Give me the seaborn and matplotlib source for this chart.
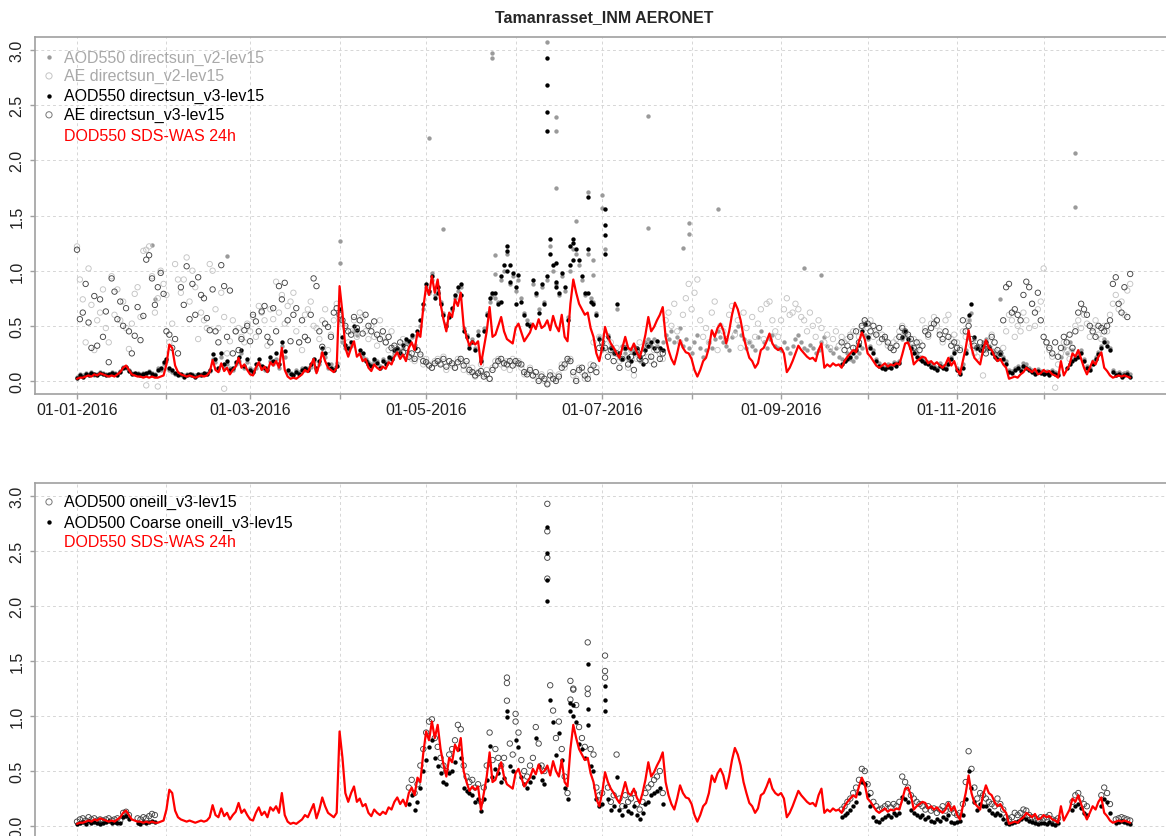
import numpy as np
import pandas as pd
import matplotlib
matplotlib.use('Agg')
import matplotlib.pyplot as plt
import seaborn as sns

nan = np.nan
#
# Daily values, one row per month (Jan .. Dec 2016)
dod550 = [
    0.02,0.03,0.03,0.04,0.05,0.04,0.06,0.05,0.07,0.06,0.05,0.04,0.05,0.04,0.06,0.08,0.12,0.14,0.10,0.06,0.05,0.04,0.04,0.03,0.04,0.03,0.04,0.03,0.03,0.04,0.05,
    0.15,0.33,0.30,0.14,0.08,0.06,0.05,0.04,0.05,0.04,0.03,0.04,0.05,0.04,0.05,0.08,0.19,0.10,0.08,0.16,0.09,0.12,0.06,0.10,0.13,0.21,0.12,0.15,0.10,
    0.06,0.05,0.12,0.17,0.10,0.13,0.08,0.17,0.14,0.18,0.12,0.30,0.10,0.04,0.02,0.03,0.02,0.04,0.06,0.10,0.08,0.14,0.20,0.07,0.15,0.26,0.18,0.12,0.10,0.08,0.12,
    0.86,0.62,0.30,0.22,0.30,0.36,0.22,0.25,0.18,0.20,0.12,0.09,0.15,0.12,0.10,0.13,0.11,0.17,0.15,0.22,0.26,0.20,0.24,0.18,0.30,0.35,0.28,0.44,0.40,0.66,
    0.86,0.78,0.95,0.80,0.92,0.70,0.56,0.45,0.62,0.58,0.74,0.68,0.80,0.50,0.40,0.32,0.36,0.33,0.36,0.15,0.30,0.45,0.67,0.40,0.42,0.50,0.58,0.45,0.38,0.36,0.34,
    0.48,0.52,0.44,0.36,0.40,0.44,0.52,0.47,0.56,0.48,0.50,0.55,0.46,0.59,0.50,0.45,0.60,0.40,0.36,0.70,0.92,0.80,0.70,0.65,0.60,0.62,0.48,0.40,0.25,0.18,
    0.30,0.49,0.40,0.34,0.30,0.25,0.21,0.30,0.40,0.30,0.28,0.34,0.26,0.21,0.30,0.42,0.58,0.45,0.49,0.55,0.60,0.67,0.40,0.28,0.20,0.15,0.25,0.37,0.30,0.26,0.25,
    0.20,0.10,0.04,0.10,0.18,0.21,0.30,0.46,0.40,0.48,0.52,0.46,0.34,0.45,0.60,0.71,0.65,0.55,0.40,0.30,0.21,0.18,0.12,0.16,0.28,0.30,0.36,0.43,0.34,0.30,0.28,
    0.30,0.25,0.08,0.12,0.18,0.25,0.32,0.28,0.25,0.22,0.20,0.21,0.18,0.28,0.34,0.12,0.15,0.13,0.16,0.14,0.15,0.12,0.18,0.22,0.25,0.28,0.26,0.36,0.44,0.38,
    0.25,0.22,0.18,0.14,0.12,0.14,0.16,0.13,0.15,0.14,0.16,0.15,0.24,0.34,0.35,0.28,0.15,0.18,0.20,0.22,0.21,0.16,0.18,0.15,0.17,0.14,0.12,0.15,0.21,0.14,0.18,
    0.10,0.06,0.18,0.30,0.46,0.30,0.21,0.18,0.15,0.28,0.37,0.30,0.28,0.22,0.18,0.20,0.15,0.12,0.02,0.03,0.04,0.03,0.06,0.08,0.12,0.10,0.08,0.11,0.06,0.07,
    0.10,0.08,0.09,0.06,0.05,0.03,0.18,0.05,0.10,0.15,0.25,0.22,0.28,0.20,0.12,0.06,0.12,0.18,0.15,0.22,0.26,0.12,0.09,0.05,0.03,0.04,0.05,0.04,0.05,0.04,0.03,
]

aod550_v3 = [
    0.03,0.05,0.04,0.06,0.05,0.07,0.06,0.05,0.07,0.06,0.05,0.06,0.07,0.06,0.05,0.08,0.12,0.13,0.09,0.06,0.07,0.06,0.05,0.06,0.07,0.08,0.06,0.05,0.10,0.12,0.17,
    0.20,0.12,0.10,0.07,0.05,0.06,0.04,0.05,0.06,0.05,0.04,0.06,0.05,0.07,0.06,0.10,0.24,0.20,0.12,0.25,0.15,0.18,0.10,0.12,0.17,0.22,0.28,0.14,0.20,
    0.10,0.08,0.15,0.20,0.14,0.12,0.10,0.22,0.18,0.25,0.15,0.35,0.27,0.10,0.06,0.05,0.08,0.06,0.10,0.12,0.10,0.15,0.20,0.12,0.18,0.30,0.25,0.15,0.12,0.10,0.14,
    0.65,0.40,0.33,0.30,0.35,0.50,0.46,0.28,0.25,0.18,0.15,0.14,0.20,0.16,0.12,0.18,0.15,0.22,0.20,0.28,0.30,0.25,0.33,0.38,0.36,0.42,0.30,0.45,0.55,0.70,
    0.88,0.82,0.95,0.75,0.85,0.70,0.60,0.50,0.58,0.66,0.78,0.85,0.88,0.45,0.40,0.30,0.35,0.28,0.42,0.18,0.45,0.60,0.75,0.80,0.80,0.70,0.95,1.05,1.22,0.90,0.98,
    0.85,0.96,0.72,0.60,0.52,0.50,0.92,0.80,0.62,0.88,0.70,0.95,1.29,1.05,0.90,0.80,0.98,0.85,0.55,1.05,1.25,1.20,1.10,0.95,0.80,1.20,0.72,0.70,0.60,0.38,
    0.30,1.32,0.40,0.30,0.25,0.70,0.25,0.20,0.30,0.22,0.18,0.25,0.30,0.22,0.15,0.28,0.32,0.35,0.30,0.36,0.30,0.28,nan,nan,nan,nan,nan,nan,nan,nan,nan,
    nan,nan,nan,nan,nan,nan,nan,nan,nan,nan,nan,nan,nan,nan,nan,nan,nan,nan,nan,nan,nan,nan,nan,nan,nan,nan,nan,nan,nan,nan,nan,
    nan,nan,nan,nan,nan,nan,nan,nan,nan,nan,nan,nan,nan,nan,nan,nan,nan,nan,nan,nan,nan,0.15,0.18,0.20,0.22,0.25,0.28,0.33,0.45,0.52,
    0.40,0.30,0.25,0.18,0.14,0.12,0.11,0.13,0.12,0.15,0.14,0.16,0.40,0.45,0.38,0.30,0.25,0.22,0.20,0.18,0.16,0.15,0.13,0.12,0.10,0.14,0.12,0.11,0.15,0.20,0.25,
    0.10,0.06,0.12,0.25,0.60,0.70,0.40,0.30,0.28,0.32,0.35,0.30,0.25,0.22,0.20,0.24,0.20,0.15,0.08,0.07,0.10,0.12,0.09,0.14,0.12,0.10,0.08,0.06,0.09,0.07,
    0.06,0.07,0.05,0.08,0.06,0.05,nan,nan,0.12,0.15,0.18,0.20,0.22,0.25,0.18,0.12,0.10,0.15,0.20,0.24,0.30,0.35,0.32,0.28,0.08,0.05,0.06,0.04,0.05,0.06,0.04,
]

aod550_v2 = [
    0.04,0.06,0.05,0.07,0.06,0.08,0.05,0.06,0.08,0.07,0.06,0.05,0.08,0.07,0.06,0.09,0.13,0.12,0.10,0.07,0.06,0.07,0.06,0.07,0.06,0.09,0.07,0.06,0.12,0.10,0.15,
    0.18,0.10,0.08,0.06,0.07,0.05,0.05,0.06,0.05,0.06,0.05,0.05,0.06,0.06,0.07,0.09,0.20,0.17,0.10,0.22,0.12,0.15,0.12,0.10,0.15,0.18,0.25,0.12,0.17,
    0.12,0.10,0.12,0.15,0.12,0.10,0.12,0.18,0.15,0.20,0.12,0.32,0.22,0.08,0.07,0.06,0.10,0.08,0.12,0.10,0.12,0.13,0.18,0.10,0.15,0.25,0.22,0.12,0.15,0.12,0.16,
    0.55,0.35,0.30,0.28,0.32,0.45,0.42,0.25,0.22,0.20,0.17,0.15,0.18,0.18,0.14,0.20,0.17,0.20,0.22,0.25,0.28,0.27,0.30,0.35,0.34,0.40,0.33,0.42,0.50,0.65,
    0.85,0.80,0.92,0.78,0.82,0.72,0.62,0.52,0.60,0.64,0.75,0.82,0.85,0.48,0.42,0.33,0.38,0.30,0.45,0.20,0.48,0.62,0.72,0.78,0.75,0.72,0.92,1.00,1.15,0.88,0.95,
    0.82,0.92,0.75,0.62,0.55,0.52,0.88,0.78,0.65,0.85,0.72,0.92,1.22,1.00,0.88,0.78,0.95,0.82,0.58,1.00,1.20,1.15,1.05,0.92,0.78,1.15,0.75,0.72,0.62,0.40,
    0.28,1.20,0.42,0.32,0.28,0.65,0.22,0.32,0.25,0.20,0.28,0.32,0.25,0.18,0.30,0.35,0.38,0.32,0.38,0.32,0.30,0.35,0.42,0.38,0.45,0.35,0.40,0.48,0.32,0.38,0.30,
    0.25,0.35,0.42,0.30,0.22,0.28,0.35,0.30,0.38,0.45,0.40,0.35,0.32,0.28,0.40,0.45,0.50,0.42,0.38,0.30,0.35,0.32,0.28,0.40,0.45,0.35,0.30,0.38,0.42,0.32,0.30,
    0.28,0.35,0.30,0.25,0.32,0.38,0.42,0.35,0.30,0.28,0.33,0.30,0.25,0.28,0.35,0.40,0.32,0.28,0.25,0.30,0.22,0.20,0.18,0.25,0.20,0.18,0.22,0.25,0.30,0.42,
    0.38,0.32,0.28,0.20,0.16,0.14,0.13,0.15,0.14,0.17,0.16,0.18,0.38,0.42,0.35,0.32,0.28,0.25,0.22,0.20,0.18,0.17,0.15,0.14,0.12,0.16,0.14,0.13,0.17,0.22,0.27,
    0.12,0.08,0.15,0.28,0.55,0.62,0.38,0.32,0.30,0.35,0.38,0.32,0.28,0.25,0.22,0.26,0.22,0.18,0.10,0.09,0.12,0.14,0.11,0.16,0.15,0.12,0.10,0.08,0.11,0.09,
    0.08,0.09,0.07,0.10,0.08,0.07,0.22,0.30,0.25,0.35,0.28,0.22,0.25,0.28,0.20,0.14,0.12,0.18,0.22,0.26,0.32,0.38,0.35,0.30,0.10,0.07,0.08,0.06,0.07,0.08,0.06,
]

ae_v3 = [
    1.19,0.56,0.62,0.88,0.53,0.30,0.77,0.32,0.74,0.40,0.63,0.17,0.93,0.81,0.56,0.72,0.50,0.66,0.45,0.25,0.41,0.67,0.37,0.59,1.10,1.14,0.93,0.69,0.85,0.98,0.79,
    0.45,0.42,0.30,0.38,0.25,0.85,0.69,1.04,0.56,0.88,0.60,0.94,0.78,0.75,0.57,0.46,0.83,0.45,0.35,1.05,0.86,0.40,0.82,0.25,0.45,0.28,0.38,0.46,0.50,
    0.36,0.60,0.54,0.45,0.63,0.68,0.40,0.35,0.66,0.45,0.86,0.74,0.89,0.55,0.36,0.60,0.66,0.35,0.55,0.40,0.37,0.60,0.93,0.86,0.45,0.31,0.52,0.49,0.40,0.62,0.66,
    0.60,0.55,0.50,0.45,0.42,0.58,0.48,0.55,0.43,0.60,0.50,0.45,0.54,0.42,0.38,0.45,0.35,0.40,0.30,0.32,0.28,0.35,0.26,0.30,0.22,0.25,0.20,0.28,0.24,0.18,
    0.17,0.14,0.12,0.16,0.18,0.15,0.20,0.13,0.18,0.16,0.12,0.17,0.20,0.14,0.18,0.10,0.08,0.05,0.07,0.09,0.04,0.06,0.02,0.10,0.14,0.18,0.20,0.16,0.15,0.18,0.14,
    0.18,0.16,0.15,0.08,0.06,0.10,0.05,0.08,0.00,0.04,0.02,-0.03,0.05,0.02,0.00,0.04,0.12,0.15,0.20,0.18,0.08,0.00,0.10,0.12,0.05,0.02,0.10,0.14,0.08,0.30,
    0.35,0.30,0.22,0.28,0.18,0.25,0.12,0.20,0.30,0.15,0.22,0.10,0.28,0.20,0.25,0.18,0.32,0.22,0.15,0.28,0.20,0.25,nan,nan,nan,nan,nan,nan,nan,nan,nan,
    nan,nan,nan,nan,nan,nan,nan,nan,nan,nan,nan,nan,nan,nan,nan,nan,nan,nan,nan,nan,nan,nan,nan,nan,nan,nan,nan,nan,nan,nan,nan,
    nan,nan,nan,nan,nan,nan,nan,nan,nan,nan,nan,nan,nan,nan,nan,nan,nan,nan,nan,nan,nan,0.35,0.28,0.32,0.40,0.30,0.45,0.35,0.50,0.55,
    0.52,0.45,0.50,0.42,0.48,0.38,0.40,0.35,0.30,0.28,0.32,0.40,0.48,0.45,0.42,0.38,0.30,0.35,0.28,0.32,0.45,0.42,0.48,0.52,0.55,0.42,0.38,0.45,0.40,0.32,0.35,
    0.30,0.28,0.55,0.45,0.50,0.38,0.32,0.30,0.35,0.28,0.25,0.30,0.40,0.35,0.28,0.25,0.55,0.85,0.88,0.62,0.65,0.60,0.55,0.78,0.90,0.85,0.70,0.62,0.80,0.55,
    0.40,0.35,0.30,0.25,0.35,0.22,0.30,0.40,0.35,0.42,0.30,0.45,0.62,0.70,0.65,0.60,0.50,0.45,0.40,0.50,0.48,0.45,0.50,0.55,0.88,0.94,0.70,0.62,0.85,0.58,0.97,
]

ae_v2 = [
    1.22,0.92,0.74,0.35,1.02,0.69,0.28,0.55,0.62,0.83,0.48,0.35,0.95,0.60,0.83,0.55,0.72,0.48,0.29,0.52,0.79,0.85,0.58,1.18,1.19,1.22,0.95,0.62,0.75,1.00,0.88,
    0.78,0.35,0.52,1.06,0.92,0.80,0.92,1.12,0.72,1.00,0.85,0.38,0.62,0.55,0.48,1.06,1.00,0.65,0.48,0.80,0.58,0.25,0.36,0.55,0.45,0.48,0.40,0.35,0.52,
    0.45,0.58,0.40,0.68,0.62,0.55,0.32,0.65,0.56,0.90,0.62,0.78,0.52,0.68,0.72,0.80,0.45,0.35,0.28,0.60,0.65,0.72,0.50,0.48,0.38,0.55,0.65,0.28,0.42,0.55,0.70,
    0.58,0.52,0.48,0.35,0.45,0.55,0.40,0.62,0.58,0.45,0.38,0.50,0.40,0.32,0.55,0.40,0.35,0.28,0.45,0.30,0.25,0.32,0.38,0.22,0.25,0.20,0.18,0.28,0.22,0.15,
    0.20,0.15,0.12,0.18,0.20,0.16,0.22,0.10,0.18,0.14,0.12,0.20,0.18,0.10,0.15,0.08,0.12,0.04,0.08,0.15,0.06,0.10,0.02,0.12,0.18,0.20,0.15,0.12,0.18,0.10,0.20,
    0.15,0.18,0.12,0.06,0.08,0.12,0.05,0.04,0.02,0.06,0.00,-0.02,0.08,0.05,0.02,0.06,0.15,0.12,0.18,0.20,0.05,0.02,0.12,0.08,0.02,0.05,0.15,0.35,0.12,0.40,
    0.32,0.38,0.28,0.35,0.25,0.30,0.18,0.22,0.32,0.12,0.28,0.05,0.20,0.35,0.25,0.30,0.22,0.18,0.28,0.35,0.25,0.20,0.55,0.62,0.50,0.70,0.45,0.35,0.60,0.75,0.88,
    0.65,0.80,0.92,0.55,0.40,0.48,0.35,0.62,0.72,0.28,0.50,0.45,0.38,0.60,0.68,0.42,0.55,0.30,0.62,0.48,0.35,0.58,0.40,0.52,0.65,0.38,0.70,0.72,0.55,0.45,0.40,
    0.55,0.65,0.75,0.60,0.62,0.70,0.65,0.58,0.55,0.45,0.62,0.50,0.40,0.55,0.48,0.35,0.42,0.30,0.38,0.45,0.32,0.40,0.35,0.38,0.42,0.45,0.30,0.40,0.48,0.52,
    0.48,0.55,0.40,0.45,0.35,0.42,0.38,0.32,0.30,0.35,0.38,0.45,0.50,0.42,0.40,0.35,0.38,0.30,0.35,0.55,0.48,0.40,0.52,0.58,0.50,0.45,0.35,0.55,0.60,0.38,0.42,
    0.35,0.30,0.45,0.40,0.55,0.32,0.25,0.22,0.30,0.05,0.28,0.35,0.42,0.30,0.25,0.20,0.30,0.45,0.60,0.55,0.40,0.50,0.45,0.62,0.55,0.48,0.70,0.50,0.65,0.72,
    1.02,0.35,0.28,0.22,-0.06,0.15,0.25,0.35,0.28,0.20,0.30,0.50,0.55,0.48,0.60,0.52,0.40,0.48,0.55,0.42,0.38,0.50,0.45,0.60,0.70,0.78,0.65,0.72,0.60,0.82,0.88,
]

aod500_oneill = [
    0.04,0.06,0.07,0.05,0.08,0.06,0.07,0.05,0.06,0.05,0.06,0.07,0.05,0.06,0.07,0.05,0.12,0.13,0.10,nan,nan,0.07,0.06,0.08,0.07,0.09,0.11,0.10,nan,nan,nan,
    nan,nan,nan,nan,nan,nan,nan,nan,nan,nan,nan,nan,nan,nan,nan,nan,nan,nan,nan,nan,nan,nan,nan,nan,nan,nan,nan,nan,nan,
    nan,nan,nan,nan,nan,nan,nan,nan,nan,nan,nan,nan,nan,nan,nan,nan,nan,nan,nan,nan,nan,nan,nan,nan,nan,nan,nan,nan,nan,nan,nan,
    nan,nan,nan,nan,nan,nan,nan,nan,nan,nan,nan,nan,nan,nan,nan,nan,nan,nan,nan,nan,nan,nan,nan,nan,0.35,0.42,0.30,0.38,0.55,0.70,
    0.85,0.95,0.97,0.80,0.72,0.62,0.55,0.50,0.65,0.70,0.78,0.92,0.88,0.55,0.45,0.40,0.42,0.35,0.38,0.22,0.35,0.55,0.85,0.60,0.70,0.62,0.55,0.62,1.30,0.75,0.65,
    0.95,0.85,0.60,0.50,0.45,0.55,0.62,0.90,0.75,0.55,0.50,2.25,1.28,1.05,0.80,0.95,0.70,0.45,0.30,1.15,1.25,1.10,0.90,0.80,0.72,1.25,0.70,0.65,0.35,0.28,
    0.30,1.35,0.35,0.22,0.28,0.65,0.25,0.18,0.28,0.22,0.25,0.30,0.20,0.15,0.22,0.30,0.35,0.38,0.42,0.45,0.50,0.30,nan,nan,nan,nan,nan,nan,nan,nan,nan,
    nan,nan,nan,nan,nan,nan,nan,nan,nan,nan,nan,nan,nan,nan,nan,nan,nan,nan,nan,nan,nan,nan,nan,nan,nan,nan,nan,nan,nan,nan,nan,
    nan,nan,nan,nan,nan,nan,nan,nan,nan,nan,nan,nan,nan,nan,nan,nan,nan,nan,nan,nan,nan,0.15,0.18,0.22,0.25,0.30,0.35,0.42,0.52,0.50,
    0.38,0.30,0.22,0.18,0.15,0.16,0.18,0.20,0.17,0.20,0.18,0.22,0.45,0.40,0.35,0.28,0.25,0.22,0.20,0.18,0.15,0.18,0.14,0.16,0.12,0.15,0.18,0.14,0.20,0.15,0.12,
    0.10,0.12,0.20,0.40,0.68,0.52,0.35,0.25,0.30,0.28,0.25,0.22,0.20,0.18,0.25,0.20,0.15,0.08,0.06,0.08,0.12,0.10,0.12,0.15,0.14,0.10,0.08,0.07,0.06,0.08,
    0.07,0.08,0.10,0.06,0.05,0.07,nan,nan,nan,nan,0.22,0.28,0.30,0.25,0.20,0.18,nan,nan,nan,nan,0.28,0.35,0.30,0.20,nan,0.06,0.07,0.08,0.07,0.06,0.05,
]

aod500_coarse = [
    0.02,0.03,0.04,0.02,0.05,0.03,0.04,0.03,0.02,0.03,0.04,0.05,0.03,0.04,0.03,0.03,0.08,0.09,0.06,nan,nan,0.03,0.02,0.04,0.03,0.04,0.05,0.04,nan,nan,nan,
    nan,nan,nan,nan,nan,nan,nan,nan,nan,nan,nan,nan,nan,nan,nan,nan,nan,nan,nan,nan,nan,nan,nan,nan,nan,nan,nan,nan,nan,
    nan,nan,nan,nan,nan,nan,nan,nan,nan,nan,nan,nan,nan,nan,nan,nan,nan,nan,nan,nan,nan,nan,nan,nan,nan,nan,nan,nan,nan,nan,nan,
    nan,nan,nan,nan,nan,nan,nan,nan,nan,nan,nan,nan,nan,nan,nan,nan,nan,nan,nan,nan,nan,nan,nan,nan,0.20,0.28,0.15,0.22,0.35,0.50,
    0.60,0.72,0.78,0.62,0.55,0.48,0.40,0.38,0.48,0.50,0.58,0.70,0.62,0.35,0.32,0.30,0.28,0.22,0.25,0.14,0.25,0.42,0.73,0.45,0.52,0.48,0.40,0.44,1.05,0.55,0.50,
    0.78,0.72,0.45,0.38,0.35,0.40,0.45,0.80,0.55,0.42,0.38,2.05,1.15,0.95,0.65,0.85,0.60,0.35,0.25,1.05,1.10,0.95,0.75,0.70,0.62,0.92,0.55,0.50,0.25,0.18,
    0.20,1.15,0.25,0.15,0.18,0.45,0.15,0.10,0.18,0.14,0.12,0.18,0.10,0.06,0.12,0.20,0.22,0.28,0.30,0.32,0.35,0.20,nan,nan,nan,nan,nan,nan,nan,nan,nan,
    nan,nan,nan,nan,nan,nan,nan,nan,nan,nan,nan,nan,nan,nan,nan,nan,nan,nan,nan,nan,nan,nan,nan,nan,nan,nan,nan,nan,nan,nan,nan,
    nan,nan,nan,nan,nan,nan,nan,nan,nan,nan,nan,nan,nan,nan,nan,nan,nan,nan,nan,nan,nan,0.08,0.10,0.12,0.15,0.18,0.22,0.30,0.40,0.38,
    0.28,0.18,0.08,0.05,0.04,0.06,0.08,0.10,0.08,0.12,0.10,0.12,0.26,0.25,0.22,0.15,0.12,0.10,0.08,0.10,0.06,0.08,0.05,0.04,0.06,0.05,0.08,0.06,0.10,0.04,0.03,
    0.04,0.05,0.10,0.25,0.50,0.35,0.22,0.15,0.20,0.18,0.18,0.15,0.12,0.10,0.12,0.10,0.06,0.03,0.02,0.03,0.04,0.05,0.06,0.08,0.06,0.05,0.04,0.03,0.02,0.03,
    0.03,0.02,0.04,0.02,0.01,0.03,nan,nan,nan,nan,0.15,0.18,0.20,0.16,0.12,0.10,nan,nan,nan,nan,0.18,0.25,0.22,0.12,nan,0.03,0.04,0.05,0.04,0.03,0.02,
]
#
# Extra single measurements (day of year from 0, value), mostly the dust peaks
aod_v3_extra_day = [163,163,163,163,164,166,166,171,172,172,177,177,183,183,183,149,149,150,152,133,125,147]
aod_v3_extra_val = [2.93,2.68,2.44,2.27,1.15,1.07,0.85,1.22,1.29,1.10,1.67,0.80,1.56,1.41,1.15,1.18,1.00,1.05,0.70,0.78,0.80,0.72]
aod_v2_extra_day = [163,144,144,122,166,166,166,198,198,177,182,182,222,212,212,210,127,145,145,173,179,179,252,258,346,346,320,26,52,91,91,27,123]
aod_v2_extra_val = [3.07,2.97,2.93,2.20,2.39,2.27,1.75,2.40,1.39,1.71,1.69,1.57,1.56,1.43,1.33,1.21,1.38,1.14,0.97,1.45,1.10,0.96,1.02,0.96,2.07,1.58,0.74,1.23,1.13,1.27,1.07,0.74,0.98]
ae_v2_extra_day = [24,28,51]
ae_v2_extra_val = [-0.04,-0.05,-0.07]
fine_extra_day = [163,163,163,177,177,183,183,149,149,171,172,152]
fine_extra_val = [2.93,2.68,2.44,1.67,1.20,1.55,1.41,1.35,1.14,1.32,1.24,1.02]
coarse_extra_day = [163,163,163,177,177,183,183,149,171,172]
coarse_extra_val = [2.72,2.48,2.24,1.47,1.06,1.27,1.05,0.99,1.12,1.00]

legend_top = ['AOD550 directsun_v2-lev15', 'AE directsun_v2-lev15',
              'AOD550 directsun_v3-lev15', 'AE directsun_v3-lev15', 'DOD550 SDS-WAS 24h']
legend_bottom = ['AOD500 oneill_v3-lev15', 'AOD500 Coarse oneill_v3-lev15', 'DOD550 SDS-WAS 24h']
month_labels = ['01-01-2016', '', '01-03-2016', '', '01-05-2016', '', '01-07-2016', '',
                '01-09-2016', '', '01-11-2016', '']
#
days = pd.date_range('2016-01-01', '2016-12-31', freq='D')
for name, s in [('dod', dod550), ('aod3', aod550_v3), ('aod2', aod550_v2), ('ae3', ae_v3),
                ('ae2', ae_v2), ('fine', aod500_oneill), ('coarse', aod500_coarse)]:
    assert len(s) == len(days), (name, len(s))

def extra_dates(d):
    return days[0] + pd.to_timedelta(d, unit='D')

# colours
GREY_DOT = '#9a9a9a'
GREY_RING = '#c4c4c4'
DARK_RING = '#444444'
SPINE = '#a0a0a0'
DOT_S = 10
RING_S = 15

sns.set_style('white')
plt.rcParams['font.family'] = ['Liberation Sans', 'DejaVu Sans']

fig = plt.figure(figsize=(11.66, 8.37), dpi=100)
ax1 = fig.add_axes([0.0300, 0.5281, 0.9769, 0.4265])
ax2 = fig.add_axes([0.0300, -0.0036, 0.9769, 0.4253])

def filled(ax, x, y, color, z):
    sns.scatterplot(x=x, y=y, ax=ax, color=color, s=DOT_S, linewidth=0, zorder=z, legend=False)

def hollow(ax, x, y, color, z):
    sns.scatterplot(x=x, y=y, ax=ax, facecolors='none', edgecolor=color, s=RING_S,
                    linewidth=0.65, zorder=z, legend=False)

# top panel: direct sun
filled(ax1, days, aod550_v2, GREY_DOT, 2)
filled(ax1, extra_dates(aod_v2_extra_day), aod_v2_extra_val, GREY_DOT, 2)
hollow(ax1, days, ae_v2, GREY_RING, 2)
hollow(ax1, extra_dates(ae_v2_extra_day), ae_v2_extra_val, GREY_RING, 2)
filled(ax1, days, aod550_v3, 'black', 3)
filled(ax1, extra_dates(aod_v3_extra_day), aod_v3_extra_val, 'black', 3)
hollow(ax1, days, ae_v3, DARK_RING, 3)
sns.lineplot(x=days, y=dod550, ax=ax1, color='red', linewidth=1.6, zorder=5, estimator=None)

# bottom panel: O'Neill
hollow(ax2, days, aod500_oneill, DARK_RING, 2)
hollow(ax2, extra_dates(fine_extra_day), fine_extra_val, DARK_RING, 2)
filled(ax2, days, aod500_coarse, 'black', 3)
filled(ax2, extra_dates(coarse_extra_day), coarse_extra_val, 'black', 3)
sns.lineplot(x=days, y=dod550, ax=ax2, color='red', linewidth=1.6, zorder=5, estimator=None)

month_starts = pd.date_range('2016-01-01', '2016-12-01', freq='MS')
for ax in (ax1, ax2):
    ax.set_xlim(days[0] - pd.Timedelta(days=14.56), days[0] + pd.Timedelta(days=380.2))
    ax.set_ylim(-0.118, 3.119)
    ax.set_xticks(month_starts)
    ax.set_yticks([0, 0.5, 1.0, 1.5, 2.0, 2.5, 3.0])
    ax.set_yticklabels(['0.0', '0.5', '1.0', '1.5', '2.0', '2.5', '3.0'],
                       rotation=90, va='center', fontsize=11.5, color='#222222')
    ax.set_xlabel('')
    ax.set_ylabel('')
    ax.grid(True, color='#d6d6d6', linestyle=(0, (3, 3)), linewidth=0.7)
    ax.set_axisbelow(True)
    ax.tick_params(axis='both', direction='out', length=3.6, width=1, color=SPINE,
                   left=True, bottom=True)
    ax.tick_params(axis='y', pad=4)
    ax.tick_params(axis='x', pad=2)
    for sp in ax.spines.values():
        sp.set_color(SPINE)
        sp.set_linewidth(1.2)

ax1.set_xticklabels(month_labels, fontsize=11.5, color='#222222')
ax2.set_xticklabels([''] * 12)

# legends drawn as text with marker rows, like the original (no frame)
top_rows = [0.944, 0.891, 0.835, 0.782, 0.725]
top_text_col = ['#a9a9a9', '#a9a9a9', 'black', 'black', 'red']
top_marks = [('filled', GREY_DOT), ('hollow', GREY_RING), ('filled', 'black'), ('hollow', '#777777'), (None, None)]
bottom_rows = [0.947, 0.890, 0.837]
bottom_text_col = ['black', 'black', 'red']
bottom_marks = [('hollow', '#777777'), ('filled', 'black'), (None, None)]

def draw_legend(ax, labels, rows, colors, marks):
    for lab, yy, c, (kind, mc) in zip(labels, rows, colors, marks):
        if kind == 'filled':
            ax.scatter([0.0123], [yy], transform=ax.transAxes, s=DOT_S, color=mc, linewidth=0, clip_on=False, zorder=6)
        elif kind == 'hollow':
            ax.scatter([0.0123], [yy], transform=ax.transAxes, s=20, facecolors='none', edgecolors=mc,
                       linewidth=0.7, clip_on=False, zorder=6)
        ax.text(0.0255, yy, lab, transform=ax.transAxes, color=c, fontsize=11.5, va='center', ha='left', zorder=6)

draw_legend(ax1, legend_top, top_rows, top_text_col, top_marks)
draw_legend(ax2, legend_bottom, bottom_rows, bottom_text_col, bottom_marks)

fig.text(604 / 1166, 1 - 18 / 837, 'Tamanrasset_INM AERONET', ha='center', va='center',
         fontsize=11.5, fontweight='bold')

fig.savefig('out.png', dpi=100)
